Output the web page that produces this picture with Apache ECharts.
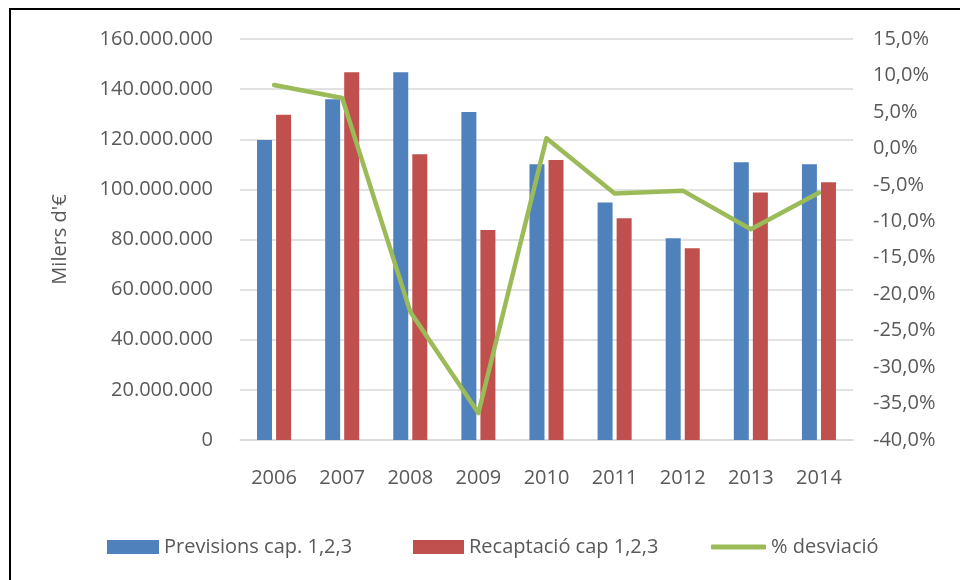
<!DOCTYPE html>
<html>
<head>
<meta charset="utf-8">
<script src="https://cdn.jsdelivr.net/npm/echarts@6/dist/echarts.min.js"></script>
<style>
  html, body { margin: 0; padding: 0; background: #fff; }
  #wrap { position: relative; width: 960px; height: 580px; overflow: hidden; background: #fff; }
  #frame { position: absolute; left: 9px; top: 8px; width: 1000px; height: 1000px; border: 2px solid #000; box-sizing: border-box; }
  #chart { position: absolute; left: 0; top: 0; width: 960px; height: 580px; }
</style>
</head>
<body>
<div id="wrap">
  <div id="frame"></div>
  <div id="chart"></div>
</div>
<script>
const categories = ['2006', '2007', '2008', '2009', '2010', '2011', '2012', '2013', '2014'];
const previsions = [119700000, 136000000, 146700000, 130900000, 110000000, 94800000, 80500000, 110800000, 110000000];
const recaptacio = [129800000, 146700000, 114000000, 83800000, 111700000, 88500000, 76500000, 98800000, 102800000];
const desviacio = [8.7, 6.9, -22.4, -36.3, 1.4, -6.2, -5.8, -11.1, -6.1];

const seriesNames = ['Previsions cap. 1,2,3', 'Recaptació cap 1,2,3', '% desviació'];
const leftAxisName = "Milers d'€";

const FONT = "'Open Sans', 'Liberation Sans', sans-serif";
const TXT = '#595959';

function fmtThousands(v) {
  return String(Math.round(v)).replace(/\B(?=(\d{3})+(?!\d))/g, '.');
}
function fmtPct(v) {
  return v.toFixed(1).replace('.', ',') + '%';
}

const chart = echarts.init(document.getElementById('chart'), null, { renderer: 'canvas' });
const legendText = { color: TXT, fontFamily: FONT, fontSize: 20 };
chart.setOption({
  animation: false,
  textStyle: { fontFamily: FONT },
  grid: { left: 240, right: 107, top: 39, bottom: 140, containLabel: false },
  legend: [
    { data: [{ name: seriesNames[0], icon: 'rect' }], left: 107, top: 537, padding: 0, itemWidth: 52, itemHeight: 14, textStyle: legendText, selectedMode: false },
    { data: [{ name: seriesNames[1], icon: 'rect' }], left: 413, top: 537, padding: 0, itemWidth: 51, itemHeight: 14, textStyle: legendText, selectedMode: false },
    { data: [{ name: seriesNames[2], icon: 'roundRect' }], left: 711, top: 537, padding: 0, itemWidth: 55, itemHeight: 5, textStyle: legendText, selectedMode: false, itemStyle: { color: '#9BBB59' } }
  ],
  xAxis: {
    type: 'category',
    data: categories,
    axisLine: { show: true, lineStyle: { color: '#D9D9D9', width: 1.5 } },
    axisTick: { show: false },
    axisLabel: { color: TXT, fontSize: 20, fontFamily: FONT, margin: 28 }
  },
  yAxis: [
    {
      type: 'value',
      min: 0, max: 160000000, interval: 20000000,
      name: leftAxisName,
      nameLocation: 'middle',
      nameGap: 170,
      nameRotate: 90,
      nameTextStyle: { color: TXT, fontSize: 20, fontFamily: FONT },
      axisLine: { show: false },
      axisTick: { show: false },
      splitLine: { lineStyle: { color: '#D9D9D9', width: 1.5 } },
      axisLabel: { color: TXT, fontSize: 20, fontFamily: FONT, margin: 27, formatter: fmtThousands }
    },
    {
      type: 'value',
      min: -40, max: 15, interval: 5,
      position: 'right',
      axisLine: { show: false },
      axisTick: { show: false },
      splitLine: { show: false },
      axisLabel: { color: TXT, fontSize: 20, fontFamily: FONT, margin: 20, formatter: fmtPct }
    }
  ],
  series: [
    {
      name: seriesNames[0], type: 'bar', data: previsions, yAxisIndex: 0,
      barWidth: 15, barGap: '27%',
      itemStyle: { color: '#4F81BD' }
    },
    {
      name: seriesNames[1], type: 'bar', data: recaptacio, yAxisIndex: 0,
      barWidth: 15, barGap: '27%',
      itemStyle: { color: '#C0504D' }
    },
    {
      name: seriesNames[2], type: 'line', data: desviacio, yAxisIndex: 1,
      symbol: 'none', z: 5,
      lineStyle: { color: '#9BBB59', width: 4.5, cap: 'round', join: 'round' },
      itemStyle: { color: '#9BBB59' }
    }
  ]
});
</script>
</body>
</html>
